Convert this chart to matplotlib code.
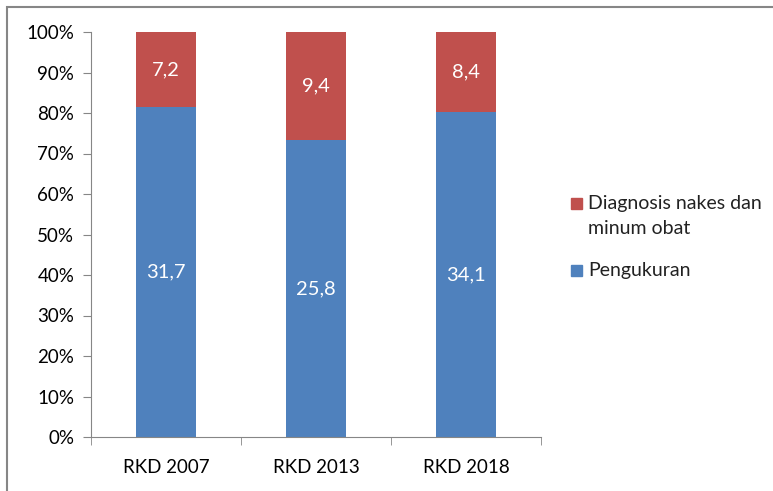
import numpy as np
import matplotlib.pyplot as plt
from matplotlib.patches import Rectangle

plt.rcParams['font.family'] = ['Lato', 'DejaVu Sans']

# data
categories = ["RKD 2007", "RKD 2013", "RKD 2018"]
pengukuran = [31.7, 25.8, 34.1]
diagnosis = [7.2, 9.4, 8.4]
legend_labels = ["Diagnosis nakes dan\nminum obat", "Pengukuran"]

peng = np.array(pengukuran)
diag = np.array(diagnosis)
total = peng + diag
peng_pct = peng / total * 100
diag_pct = diag / total * 100

blue = "#4F81BD"
red = "#C0504D"
grey = "#868686"

W, H = 773, 491
fig = plt.figure(figsize=(W / 100, H / 100), dpi=100)
ax = fig.add_axes([91 / W, 1 - 437 / H, (541 - 91) / W, (437 - 32) / H])

x = np.arange(len(categories))
ax.bar(x, peng_pct, width=0.405, color=blue)
ax.bar(x, diag_pct, width=0.405, bottom=peng_pct, color=red)

#value labels in the middle of each segment
for i in range(len(categories)):
    ax.text(x[i], peng_pct[i] / 2, f"{pengukuran[i]:.1f}".replace(".", ","),
            ha="center", va="center", color="white", fontsize=14.5)
    ax.text(x[i], peng_pct[i] + diag_pct[i] / 2, f"{diagnosis[i]:.1f}".replace(".", ","),
            ha="center", va="center", color="white", fontsize=14.5)

ax.set_xlim(-0.5, len(categories) - 0.5)
ax.set_ylim(0, 100)
ax.set_yticks(np.arange(0, 101, 10))
ax.set_yticklabels([f"{v}%" for v in range(0, 101, 10)])
ax.set_xticks(x)
ax.set_xticklabels(categories)
ax.set_xticks(np.arange(-0.5, len(categories), 1), minor=True)
ax.tick_params(axis="x", which="major", length=0, pad=16, labelsize=13.5)
ax.tick_params(axis="x", which="minor", length=6, color=grey, direction="out")
ax.tick_params(axis="y", length=6, color=grey, labelsize=13.5, pad=6)

for s in ["top", "right"]:
    ax.spines[s].set_visible(False)
for s in ["left", "bottom"]:
    ax.spines[s].set_color(grey)

#legend drawn by hand so the marker sits on the first text line
for col, lab, ymid in [(red, legend_labels[0], 203), (blue, legend_labels[1], 270)]:
    fig.patches.append(Rectangle((571 / W, 1 - (ymid + 5.5) / H), 11 / W, 11 / H,
                                 transform=fig.transFigure, color=col))
    fig.text(588 / W, 1 - (ymid - 8) / H, lab, ha="left", va="top",
             fontsize=14, linespacing=1.55, color="#222222")

#outer chart frame
fig.patches.append(Rectangle((7 / W, -0.05), 1.1, 1 - 7 / H + 0.05,
                             transform=fig.transFigure, fill=False,
                             edgecolor=grey, linewidth=1.5))

fig.savefig("out.png", dpi=100)
